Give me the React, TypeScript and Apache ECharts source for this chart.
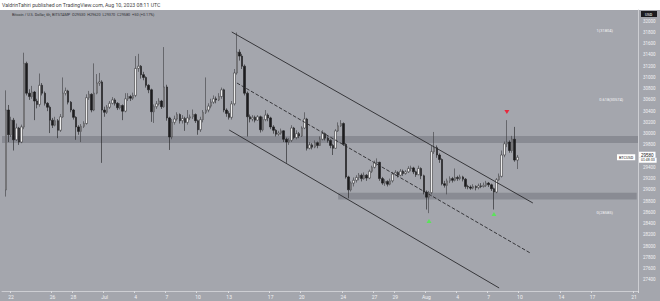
import React, { useEffect, useRef } from "react";
import * as echarts from "echarts";

// ---- data (6h candles, BITSTAMP BTCUSD) ----
const firstOpen = 29000;
const closes = [
  30420, 29980, 30240, 29890, 30100, 29850, 30120, 31250, 30720, 30660,
  30740, 30580, 30520, 30860, 30720, 30540, 30470, 30240, 30150, 30230,
  30060, 30300, 30720, 30760, 30560, 30420, 30290, 30120, 30040, 30130,
  30180, 30640, 30700, 30420, 30720, 30900, 30920, 30420, 30380, 30470,
  30540, 30600, 30540, 30460, 30500, 30400, 30620, 30660, 30630, 30680,
  31160, 31200, 31050, 31000, 30860, 30780, 30390, 30480, 30530, 30580,
  30480, 30830, 30280, 29940, 30200, 30260, 30340, 30230, 30270, 30200,
  30280, 30300, 30340, 30230, 30070, 30250, 30380, 30420, 30490, 30560,
  30620, 30600, 30660, 30780, 30420, 30360, 30290, 30530, 31080, 31450,
  31380, 31200, 30720, 30300, 30260, 30290, 30240, 30300, 30070, 30250,
  30330, 30280, 30120, 30060, 29990, 30010, 30050, 29900, 29850, 29880,
  30100, 29930, 30000, 29960, 30100, 30260, 29740, 29800, 29760, 29840,
  29790, 29900, 30000, 29920, 29880, 29790, 29740, 30050, 30140, 30180,
  29810, 29230, 29000, 29120, 29170, 29220, 29260, 29200, 29260, 29210,
  29330, 29400, 29480, 29490, 29200, 29120, 29150, 29100, 29160, 29280,
  29310, 29260, 29330, 29290, 29320, 29380, 29390, 29320, 29270, 29380,
  29250, 28960, 28870, 28950, 29680, 29750, 29620, 29540, 29110, 29080,
  29160, 29200, 29170, 29220, 29200, 29230, 29190, 29060, 29050, 29030,
  29060, 29040, 29070, 29060, 29080, 29120, 29090, 29020, 28960, 29180,
  29240, 29620, 29820, 29850, 29700, 29900, 29530, 29580,
];
const highs = [
  30770, 30510, 30300, 30280, 30180, 30120, 30160, 31440, 31280, 30790,
  30850, 30760, 30620, 31070, 30900, 30750, 30560, 30500, 30280, 30300,
  30260, 30350, 31000, 30820, 30780, 30580, 30440, 30310, 30150, 30170,
  30220, 30700, 30760, 30720, 31250, 31060, 31080, 30950, 30480, 30510,
  30580, 30650, 30630, 30560, 30540, 30520, 30720, 30720, 30690, 30730,
  31380, 31420, 31220, 31100, 31020, 30880, 30800, 30520, 30580, 30630,
  30600, 31540, 30870, 30300, 30260, 30320, 30380, 30360, 30330, 30300,
  30420, 30340, 30430, 30360, 30250, 30300, 30420, 31000, 30540, 30620,
  30680, 30660, 30720, 30820, 30800, 30450, 30400, 30580, 31150, 31800,
  31500, 31420, 31230, 30750, 30340, 30330, 30320, 30330, 30320, 30300,
  30420, 30360, 30300, 30150, 30080, 30050, 30090, 30060, 29930, 29920,
  30150, 30120, 30060, 30030, 30130, 30380, 30280, 29850, 29830, 29880,
  29860, 29950, 30060, 30020, 29950, 29900, 29820, 30080, 30200, 30240,
  30200, 29830, 29250, 29150, 29220, 29260, 29300, 29290, 29310, 29280,
  29360, 29430, 29520, 29560, 29500, 29230, 29190, 29170, 29200, 29320,
  29350, 29330, 29370, 29360, 29350, 29420, 29430, 29410, 29340, 29430,
  29400, 29270, 28990, 28980, 29780, 30030, 29790, 29650, 29560, 29160,
  29200, 29240, 29230, 29380, 29250, 29270, 29250, 29210, 29090, 29080,
  29100, 29080, 29110, 29120, 29130, 29160, 29140, 29110, 29040, 29210,
  29290, 29700, 29860, 30240, 29880, 29960, 30120, 29620,
];
const lows = [
  28880, 29850, 29940, 29700, 29870, 29800, 29830, 30080, 30680, 30600,
  30620, 30240, 30450, 30480, 30680, 30500, 30400, 30010, 30100, 30130,
  29920, 30030, 30280, 30680, 30520, 30380, 30250, 29890, 29980, 29850,
  30100, 30160, 30600, 30380, 30400, 30700, 30850, 29480, 30300, 30350,
  30440, 30520, 30500, 30420, 30430, 30240, 30380, 30580, 30580, 30600,
  30650, 31100, 30980, 30950, 30820, 30720, 30210, 30190, 30440, 30500,
  30440, 30460, 30230, 29710, 29900, 30160, 30230, 30180, 30180, 30050,
  30160, 30240, 30260, 30190, 29980, 30030, 30200, 30350, 30380, 30450,
  30530, 30540, 30580, 30620, 30380, 30300, 30250, 30250, 30500, 31050,
  31300, 31150, 30680, 29950, 30200, 30220, 30200, 30230, 30020, 30040,
  30220, 30220, 30080, 30000, 29950, 29960, 29980, 29850, 29480, 29800,
  29850, 29900, 29900, 29920, 29940, 30080, 29700, 29720, 29720, 29740,
  29740, 29780, 29880, 29880, 29840, 29740, 29620, 29730, 30030, 30120,
  29780, 29200, 28850, 28970, 29060, 29130, 29170, 29150, 29180, 29160,
  29190, 29300, 29380, 29430, 29160, 29090, 29070, 29060, 29080, 29130,
  29250, 29220, 29240, 29250, 29270, 29300, 29330, 29280, 29230, 29260,
  29190, 28920, 28650, 28585, 28920, 29640, 29570, 29480, 29080, 29040,
  28920, 29120, 29130, 29150, 29160, 29170, 29150, 29020, 29010, 29000,
  29010, 28990, 29010, 29030, 29040, 29050, 29050, 28980, 28650, 28940,
  29160, 29220, 29580, 29760, 29660, 29660, 29500, 29370,
];
const firstCandleSlot = 1;
const slotCount = 245;
const startTimeUTC = Date.UTC(2023, 5, 21, 6, 0);
const slotHours = 6;

const tickDates = ["06-22", "06-26", "06-28", "07-01", "07-04", "07-07", "07-10", "07-13", "07-17", "07-20",
  "07-24", "07-27", "07-29", "08-01", "08-04", "08-07", "08-10", "08-14", "08-17", "08-21"];
const tickTexts = ["22", "26", "28", "Jul", "4", "7", "10", "13", "17", "20",
  "24", "27", "29", "Aug", "4", "7", "10", "14", "17", "21"];

const yMin = 27200;
const yMax = 32200;
const yStep = 200;

// channel lines: [slot, price]
const upperChannel = [[88, 31809], [204, 28766]];
const midChannel = [[90, 30901], [203, 27876]];
const lowerChannel = [[87, 30065], [191, 27254]];
const resistanceZone = [29835, 29960];
const supportZone = [28826, 28950];
const supportZoneStartSlot = 129;
const buySignals = [[164, 28446], [189, 28571]];
const sellSignals = [[194, 30385]];
const fibLabels = ["1(31804)", "0.618(30574)", "0(28585)"];
const fibSlots = [235, 239, 235];
const fibPrices = [31840, 30600, 28590];

const headerText = "ValdrinTahiri published on TradingView.com, Aug 10, 2023 08:11 UTC";
const legendText = "Bitcoin / U.S. Dollar, 6h, BITSTAMP  O29530  H29620  L29370  C29580  +50 (+0.17%)";
const countdown = "01:48:33";
const symbolTag = "BTCUSD";

function pad(n: number) {
  return n < 10 ? "0" + n : "" + n;
}

const categories: string[] = [];
for (let i = 0; i < slotCount; i++) {
  const d = new Date(startTimeUTC + i * slotHours * 3600 * 1000);
  categories.push(
    pad(d.getUTCMonth() + 1) + "-" + pad(d.getUTCDate()) + " " + pad(d.getUTCHours()) + ":00"
  );
}

export default function App() {
  const ref = useRef<HTMLDivElement>(null);
  useEffect(() => {
    if (!ref.current) return;
    const chart = echarts.init(ref.current, undefined, { renderer: "svg" });

    const candles = categories.map((_, i) => {
      const k = i - firstCandleSlot;
      if (k < 0 || k >= closes.length) return "-";
      const o = k === 0 ? firstOpen : closes[k - 1];
      return [o, closes[k], lows[k], highs[k]];
    });
    const lastClose = closes[closes.length - 1];

    const isTick = (idx: number, val: string) => {
      if (!val.endsWith("00:00")) return false;
      return tickDates.indexOf(val.slice(0, 5)) >= 0;
    };
    const tickText = (val: string) => {
      const j = tickDates.indexOf(val.slice(0, 5));
      return j >= 0 && val.endsWith("00:00") ? tickTexts[j] : "";
    };

    const lineItem = (pts: number[][], type: string) => [
      { coord: [categories[pts[0][0]], pts[0][1]], lineStyle: { type, color: "#2a2a2e", width: 0.9 } },
      { coord: [categories[pts[1][0]], pts[1][1]] },
    ];

    const option: any = {
      animation: false,
      backgroundColor: "#a4a6ad",
      grid: { left: 2, right: 22, top: 10, bottom: 10 },
      xAxis: {
        type: "category",
        data: categories,
        boundaryGap: true,
        axisLine: { show: true, lineStyle: { color: "#cdced3", width: 1 } },
        axisTick: { show: true, interval: isTick, length: 2, lineStyle: { color: "#dcdde0" } },
        axisLabel: {
          interval: isTick,
          formatter: tickText,
          fontSize: 5,
          color: "#f1f1f3",
          margin: 3,
          fontFamily: "Roboto",
        },
        splitLine: { show: false },
      },
      yAxis: {
        type: "value",
        position: "right",
        min: yMin,
        max: yMax,
        interval: yStep,
        axisLine: { show: true, lineStyle: { color: "#cdced3", width: 1 } },
        axisTick: { show: false },
        splitLine: { show: false },
        axisLabel: {
          showMinLabel: false,
          showMaxLabel: false,
          fontSize: 4.5,
          color: "#f1f1f3",
          margin: 5,
          fontFamily: "Roboto",
          formatter: (v: number) => (Math.abs(v - lastClose) < 150 ? "" : String(v)),
        },
      },
      series: [
        {
          type: "candlestick",
          data: candles,
          barWidth: 2,
          itemStyle: {
            color: "#ececec",
            color0: "#1c1c1e",
            borderColor: "#3c3c40",
            borderColor0: "#1c1c1e",
            borderWidth: 0.6,
          },
          markArea: {
            silent: true,
            itemStyle: { color: "rgba(70,72,80,0.28)" },
            data: [
              [{ yAxis: resistanceZone[1] }, { yAxis: resistanceZone[0] }],
              [
                { xAxis: categories[supportZoneStartSlot], yAxis: supportZone[1] },
                { xAxis: categories[slotCount - 1], yAxis: supportZone[0] },
              ],
            ],
          },
          markLine: {
            silent: true,
            symbol: ["none", "none"],
            label: { show: false },
            data: [
              lineItem(upperChannel, "solid"),
              lineItem(midChannel, "dashed"),
              lineItem(lowerChannel, "solid"),
              {
                yAxis: lastClose,
                lineStyle: { color: "rgba(0,0,0,0)", width: 0 },
                label: {
                  show: true,
                  position: "end",
                  distance: 1,
                  formatter: "{p|" + lastClose + "}\n{t|" + countdown + "}",
                  rich: {
                    p: { fontSize: 4.5, color: "#222", backgroundColor: "#ffffff", padding: [1, 2, 0, 2] },
                    t: { fontSize: 3.5, color: "#222", backgroundColor: "#ffffff", padding: [0, 2, 1, 2] },
                  },
                },
              },
            ],
          },
          markPoint: {
            silent: true,
            data: [
              ...buySignals.map((p) => ({
                coord: [categories[p[0]], p[1]],
                symbol: "triangle",
                symbolSize: [5, 4],
                itemStyle: { color: "#5be35b" },
                label: { show: false },
              })),
              ...sellSignals.map((p) => ({
                coord: [categories[p[0]], p[1]],
                symbol: "triangle",
                symbolRotate: 180,
                symbolSize: [5, 4],
                itemStyle: { color: "#e8283c" },
                label: { show: false },
              })),
              ...fibLabels.map((t, i) => ({
                coord: [categories[fibSlots[i]], fibPrices[i]],
                symbol: "rect",
                symbolSize: 1,
                itemStyle: { color: "rgba(0,0,0,0)" },
                label: {
                  show: true,
                  position: "left",
                  distance: 0,
                  formatter: t,
                  fontSize: 4,
                  color: "#f4f4f6",
                  fontFamily: "Roboto",
                },
              })),
              {
                coord: [categories[slotCount - 1], lastClose],
                symbol: "rect",
                symbolSize: 1,
                itemStyle: { color: "rgba(0,0,0,0)" },
                label: {
                  show: true,
                  position: "left",
                  distance: 1,
                  formatter: symbolTag,
                  fontSize: 3.8,
                  color: "#222",
                  backgroundColor: "#ffffff",
                  padding: [1, 2],
                  fontFamily: "Roboto",
                },
              },
            ],
          },
        },
      ],
      graphic: [
        { type: "rect", shape: { x: 0, y: 0, width: 660, height: 10 }, style: { fill: "#ffffff" }, silent: true },
        {
          type: "text",
          x: 2,
          y: 2.5,
          style: { text: headerText, fontSize: 5.2, fill: "#444", fontFamily: "Roboto" },
          silent: true,
        },
        {
          type: "text",
          x: 12,
          y: 12.5,
          style: { text: legendText, fontSize: 3.8, fill: "#2e2e33", fontFamily: "Roboto" },
          silent: true,
        },
        { type: "rect", shape: { x: 641, y: 11, width: 16, height: 6 }, style: { fill: "#1b1b1f" }, silent: true },
        {
          type: "text",
          x: 645,
          y: 12,
          style: { text: "USD", fontSize: 3.8, fill: "#ffffff", fontFamily: "Roboto" },
          silent: true,
        },
      ],
    };
    chart.setOption(option);
    return () => chart.dispose();
  }, []);
  return (
    <div
      ref={ref}
      style={{ position: "fixed", left: 0, top: 0, width: 660, height: 301 }}
    />
  );
}
